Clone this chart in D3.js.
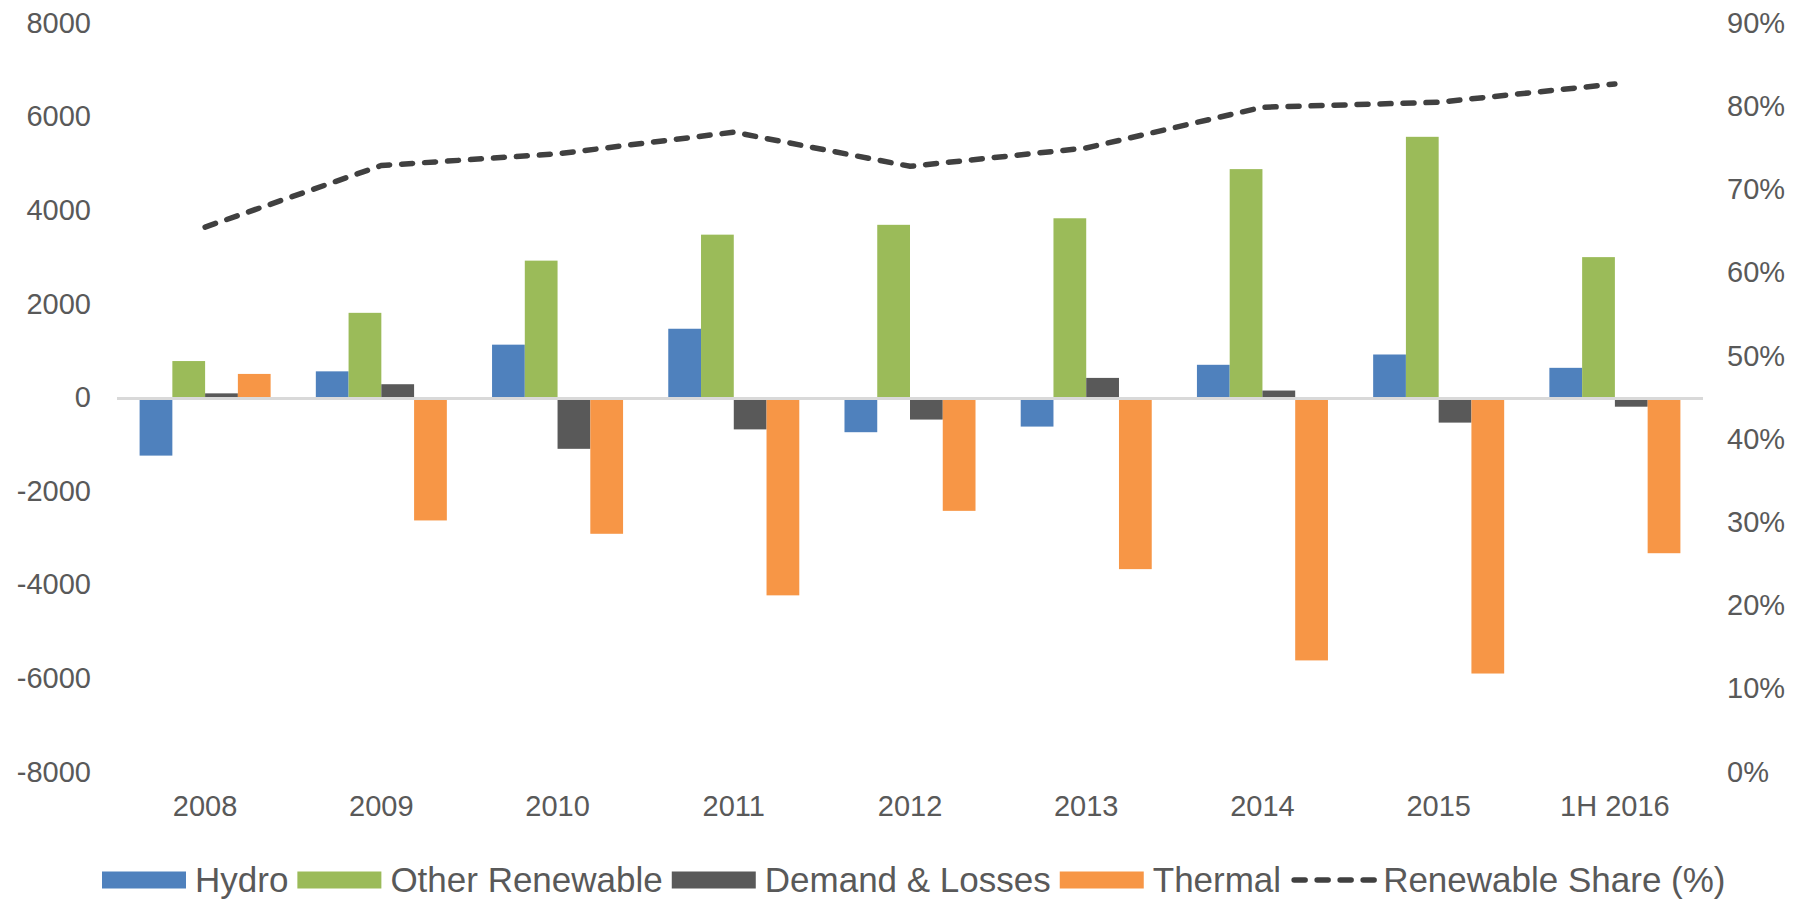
<!DOCTYPE html>
<html>
<head>
<meta charset="utf-8">
<script src="https://cdn.jsdelivr.net/npm/d3@7"></script>
<style>
  html, body { margin: 0; padding: 0; background: #fff; }
  svg text { font-family: "Liberation Sans", Arial, sans-serif; fill: #595959; }
</style>
</head>
<body>
<svg id="chart"></svg>
<script>
// Categorie e serie
const categories = ["2008", "2009", "2010", "2011", "2012", "2013", "2014", "2015", "1H 2016"];
const hydro          = [-1220, 580, 1150, 1490, -720, -600, 720, 940, 655];
const otherRenewable = [800, 1830, 2945, 3500, 3710, 3850, 4900, 5590, 3020];
const demandLosses   = [110, 305, -1075, -660, -450, 440, 170, -515, -175];
const thermal        = [525, -2605, -2890, -4205, -2400, -3645, -5595, -5875, -3305];
const renewableShare = [0.656, 0.730, 0.744, 0.770, 0.729, 0.751, 0.800, 0.806, 0.828];

const seriesNames  = ["Hydro", "Other Renewable", "Demand & Losses", "Thermal"];
const seriesValues = [hydro, otherRenewable, demandLosses, thermal];
const lineName     = "Renewable Share (%)";

const leftTicks  = [-8000, -6000, -4000, -2000, 0, 2000, 4000, 6000, 8000];
const rightTicks = [0, 0.1, 0.2, 0.3, 0.4, 0.5, 0.6, 0.7, 0.8, 0.9];

// Colori
const colors = ["#4f81bd", "#9bbb59", "#595959", "#f79646"];
const lineColor = "#404040";

const width = 1793, height = 901;
const plot = { left: 117, right: 1703, top: 24, bottom: 773 };

const svg = d3.select("#chart")
  .attr("width", width)
  .attr("height", height);

// Scale
const x0 = d3.scaleBand()
  .domain(categories)
  .range([plot.left, plot.right])
  .paddingInner(0.2565)
  .paddingOuter(0.2565 / 2);

const x1 = d3.scaleBand()
  .domain(seriesNames)
  .range([0, x0.bandwidth()]);

const yLeft = d3.scaleLinear()
  .domain([-8000, 8000])
  .range([plot.bottom, plot.top]);

const yRight = d3.scaleLinear()
  .domain([0, 0.9])
  .range([plot.bottom, plot.top]);

// Etichette asse sinistro (trattino semplice come in Excel)
const leftAxis = d3.axisLeft(yLeft).tickValues(leftTicks).tickSize(0).tickPadding(0)
  .tickFormat(d => String(d));
svg.append("g")
  .attr("transform", `translate(91,-2)`)
  .call(leftAxis)
  .call(g => g.select(".domain").remove())
  .selectAll("text")
    .attr("font-size", 29)
    .attr("dy", "0.35em")
    .style("font-family", "Liberation Sans, Arial, sans-serif")
    .style("fill", "#595959");

// Etichette asse destro
const rightAxis = d3.axisRight(yRight).tickValues(rightTicks).tickSize(0).tickPadding(0)
  .tickFormat(d => Math.round(d * 100) + "%");
svg.append("g")
  .attr("transform", `translate(1727,-2)`)
  .call(rightAxis)
  .call(g => g.select(".domain").remove())
  .selectAll("text")
    .attr("font-size", 29)
    .attr("dy", "0.35em")
    .style("font-family", "Liberation Sans, Arial, sans-serif")
    .style("fill", "#595959");

// Etichette categorie
const xAxis = d3.axisBottom(x0).tickSize(0).tickPadding(0);
svg.append("g")
  .attr("transform", `translate(0,806)`)
  .call(xAxis)
  .call(g => g.select(".domain").remove())
  .selectAll("text")
    .attr("font-size", 29)
    .attr("y", 0)
    .attr("dy", "0.35em")
    .style("font-family", "Liberation Sans, Arial, sans-serif")
    .style("fill", "#595959");

// Barre
const groups = svg.append("g").selectAll("g")
  .data(categories)
  .join("g")
    .attr("transform", d => `translate(${x0(d)},0)`);

groups.selectAll("rect")
  .data((c, i) => seriesNames.map((s, k) => ({ s, k, v: seriesValues[k][i] })))
  .join("rect")
    .attr("x", d => x1(d.s))
    .attr("width", x1.bandwidth())
    .attr("y", d => yLeft(Math.max(0, d.v)))
    .attr("height", d => Math.abs(yLeft(d.v) - yLeft(0)))
    .attr("fill", d => colors[d.k]);

// Linea dello zero
svg.append("line")
  .attr("x1", plot.left).attr("x2", plot.right)
  .attr("y1", yLeft(0)).attr("y2", yLeft(0))
  .attr("stroke", "#d9d9d9")
  .attr("stroke-width", 3);

// Quota rinnovabile (asse destro)
const line = d3.line()
  .x((d, i) => x0(categories[i]) + x0.bandwidth() / 2)
  .y(d => yRight(d));

svg.append("path")
  .datum(renewableShare)
  .attr("d", line)
  .attr("fill", "none")
  .attr("stroke", lineColor)
  .attr("stroke-width", 5.5)
  .attr("stroke-linecap", "round")
  .attr("stroke-dasharray", "11,12");

// Legenda
const legend = svg.append("g").attr("transform", "translate(0,880)");
let lx = 102;
const legendItems = seriesNames.map((s, k) => ({ name: s, k })).concat([{ name: lineName, k: -1 }]);
legendItems.forEach(item => {
  if (item.k >= 0) {
    legend.append("rect")
      .attr("x", lx).attr("y", -8.5)
      .attr("width", 84).attr("height", 17)
      .attr("fill", colors[item.k]);
  } else {
    legend.append("line")
      .attr("x1", lx + 4).attr("x2", lx + 86)
      .attr("y1", 0).attr("y2", 0)
      .attr("stroke", lineColor)
      .attr("stroke-width", 5.5)
      .attr("stroke-linecap", "round")
      .attr("stroke-dasharray", "11,12");
  }
  lx += 93;
  const t = legend.append("text")
    .attr("x", lx)
    .attr("y", 0)
    .attr("dy", "0.35em")
    .attr("font-size", 35)
    .text(item.name);
  lx += t.node().getComputedTextLength() + 9;
});
</script>
</body>
</html>
